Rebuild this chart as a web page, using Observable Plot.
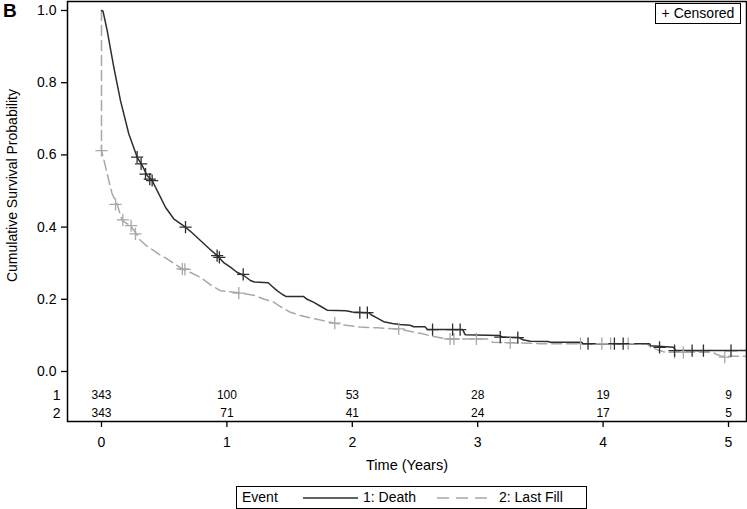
<!DOCTYPE html>
<html>
<head>
<meta charset="utf-8">
<script src="https://cdn.jsdelivr.net/npm/d3@7"></script>
<script src="https://cdn.jsdelivr.net/npm/@observablehq/plot@0.6"></script>
<style>
  html, body { margin: 0; padding: 0; background: #fff; }
  #wrap { position: relative; width: 747px; height: 509px; font-family: "Liberation Sans", Arial, sans-serif; color: #000; overflow: hidden; }
  #chart { position: absolute; left: 0; top: 0; }
  #panel { position: absolute; left: 3px; top: 0px; font-size: 19px; font-weight: bold; }
  #cens { position: absolute; left: 655px; top: 3px; width: 84px; height: 19px; border: 1px solid #000; font-size: 14px; line-height: 19px; text-align: center; background: #fff; }
  #legend { position: absolute; left: 236px; top: 486px; width: 349px; height: 21px; border: 1px solid #000; font-size: 14px; line-height: 21px; background: #fff; }
  #legend span, #legend svg { position: absolute; top: 0; }
</style>
</head>
<body>
<div id="wrap">
  <div id="chart"></div>
  <div id="panel">B</div>
  <div id="cens">+ Censored</div>
  <div id="legend"></div>
</div>
<script>
// ---- data ----
const deathT = [0, 0.012, 0.045, 0.098, 0.151, 0.218, 0.284, 0.324, 0.364, 0.404, 0.46, 0.51, 0.576, 0.669, 0.72, 0.789, 0.86, 0.922, 0.98, 1.028, 1.08, 1.135, 1.187, 1.22, 1.33, 1.36, 1.40, 1.44, 1.47, 1.61, 1.64, 1.69, 1.75, 1.80, 1.95, 2.0, 2.13, 2.16, 2.20, 2.25, 2.32, 2.38, 2.46, 2.49, 2.58, 2.60, 2.88, 2.90, 3.17, 3.20, 3.33, 3.36, 3.42, 3.56, 3.58, 3.83, 3.84, 4.37, 4.38, 4.56, 4.58, 5.2];
const deathS = [1.0, 0.998, 0.945, 0.843, 0.751, 0.658, 0.594, 0.571, 0.543, 0.529, 0.49, 0.455, 0.423, 0.400, 0.385, 0.363, 0.34, 0.321, 0.30, 0.289, 0.275, 0.266, 0.252, 0.248, 0.246, 0.236, 0.224, 0.214, 0.208, 0.208, 0.200, 0.192, 0.180, 0.170, 0.168, 0.165, 0.163, 0.155, 0.148, 0.138, 0.133, 0.130, 0.128, 0.124, 0.124, 0.116, 0.116, 0.102, 0.100, 0.095, 0.094, 0.088, 0.084, 0.083, 0.081, 0.081, 0.077, 0.077, 0.071, 0.067, 0.058, 0.058];

const fillT = [0, 0, 0.02, 0.045, 0.085, 0.125, 0.165, 0.231, 0.279, 0.311, 0.36, 0.417, 0.47, 0.523, 0.643, 0.70, 0.789, 0.87, 0.948, 1.094, 1.214, 1.30, 1.373, 1.426, 1.50, 1.586, 1.70, 1.86, 1.95, 2.06, 2.20, 2.37, 2.45, 2.54, 2.65, 2.75, 3.08, 3.12, 3.42, 3.50, 4.35, 4.38, 4.45, 4.50, 4.88, 4.90, 4.95, 5.2];
const fillS = [1.0, 0.612, 0.585, 0.548, 0.492, 0.463, 0.418, 0.404, 0.381, 0.363, 0.348, 0.335, 0.322, 0.312, 0.284, 0.276, 0.261, 0.24, 0.224, 0.218, 0.211, 0.200, 0.192, 0.180, 0.165, 0.155, 0.146, 0.134, 0.128, 0.123, 0.121, 0.118, 0.112, 0.106, 0.097, 0.090, 0.090, 0.081, 0.078, 0.077, 0.077, 0.067, 0.058, 0.053, 0.053, 0.048, 0.042, 0.042];

const deathCensT = [0.284, 0.316, 0.351, 0.385, 0.404, 0.67, 0.922, 0.94, 1.13, 2.06, 2.12, 2.64, 2.80, 2.86, 3.18, 3.32, 3.88, 4.09, 4.16, 4.45, 4.57, 4.71, 4.80, 5.02];
const deathCensS = [0.594, 0.575, 0.547, 0.533, 0.529, 0.400, 0.321, 0.316, 0.269, 0.163, 0.163, 0.116, 0.116, 0.116, 0.095, 0.094, 0.077, 0.077, 0.077, 0.067, 0.058, 0.058, 0.058, 0.058];

const fillCensT = [0.0, 0.112, 0.17, 0.236, 0.271, 0.645, 0.665, 1.095, 1.86, 2.37, 2.78, 2.81, 2.99, 3.26, 3.82, 3.99, 4.06, 4.20, 4.57, 4.64, 4.97];
const fillCensS = [0.612, 0.463, 0.42, 0.404, 0.381, 0.284, 0.283, 0.217, 0.134, 0.118, 0.090, 0.090, 0.090, 0.080, 0.077, 0.077, 0.077, 0.077, 0.053, 0.053, 0.040];

const riskTimes = [0, 1, 2, 3, 4, 5];
const risk1 = [343, 100, 53, 28, 19, 9];
const risk2 = [343, 71, 41, 24, 17, 5];
const riskRows = ["1", "2"];

const xTicks = [0, 1, 2, 3, 4, 5];
const yTicks = [0, 0.2, 0.4, 0.6, 0.8, 1.0];
const xLabel = "Time (Years)";
const yLabel = "Cumulative Survival Probability";
const seriesNames = ["1: Death", "2: Last Fill"];
const legendTitle = "Event";

// ---- build tables ----
const death = deathT.map((t, i) => ({t, s: deathS[i]}));
const fill = fillT.map((t, i) => ({t, s: fillS[i]}));
const deathCens = deathCensT.map((t, i) => ({t, s: deathCensS[i]}));
const fillCens = fillCensT.map((t, i) => ({t, s: fillCensS[i]}));
const riskTable = riskTimes.flatMap((t, i) => [
  {t, row: 0, n: risk1[i]},
  {t, row: 1, n: risk2[i]}
]);

const darkColor = "#2e2e2e";
const grayColor = "#a8a8a8";
const rowY = [-0.0665, -0.116];

const chart = Plot.plot({
  width: 747,
  height: 486,
  marginLeft: 67,
  marginRight: 1,
  marginTop: 1,
  marginBottom: 65,
  style: {fontFamily: '"Liberation Sans", Arial, sans-serif', fontSize: "14px", color: "#000", background: "#fff", overflow: "visible"},
  x: {domain: [-0.2711, 5.1435]},
  y: {domain: [-0.1385, 1.0249]},
  marks: [
    Plot.axisY({ticks: yTicks, tickFormat: d3.format(".1f"), tickSize: 6, tickPadding: 5, label: null, strokeWidth: 1.3}),
    Plot.axisX({ticks: xTicks, tickFormat: d3.format("d"), tickSize: 6, tickPadding: 10, label: null, strokeWidth: 1.3}),
    Plot.line(fill, {x: "t", y: "s", stroke: grayColor, strokeWidth: 1.5, strokeDasharray: "10,5", clip: true}),
    Plot.line(death, {x: "t", y: "s", stroke: darkColor, strokeWidth: 1.5, clip: true}),
    Plot.dot(fillCens, {x: "t", y: "s", symbol: "plus", r: 4, stroke: grayColor, strokeWidth: 1.3}),
    Plot.dot(deathCens, {x: "t", y: "s", symbol: "plus", r: 4, stroke: darkColor, strokeWidth: 1.3}),
    Plot.text(riskTable, {x: "t", y: d => rowY[d.row], text: d => String(d.n), fontSize: 12}),
    Plot.text(riskRows, {frameAnchor: "left", y: (d, i) => rowY[i], text: d => d, dx: -7, textAnchor: "end", fontSize: 14}),
    Plot.text([yLabel], {frameAnchor: "left", y: [0.515], dx: -55, rotate: -90, textAnchor: "middle", fontSize: 14}),
    Plot.text([xLabel], {frameAnchor: "bottom", dy: 48, textAnchor: "middle", fontSize: 14.5}),
    Plot.frame({stroke: "#000", strokeWidth: 1.5})
  ]
});
document.getElementById("chart").appendChild(chart);

// ---- legend ----
const lg = document.getElementById("legend");
lg.innerHTML = `
  <span style="left:5px">${legendTitle}</span>
  <svg width="56" height="21" style="left:66px"><line x1="0" x2="55" y1="11" y2="11" stroke="${darkColor}" stroke-width="1.5"/></svg>
  <span style="left:126px">${seriesNames[0]}</span>
  <svg width="56" height="21" style="left:200px"><line x1="0" x2="54" y1="11" y2="11" stroke="${grayColor}" stroke-width="1.5" stroke-dasharray="12,7"/></svg>
  <span style="left:262px">${seriesNames[1]}</span>
`;
</script>
</body>
</html>
